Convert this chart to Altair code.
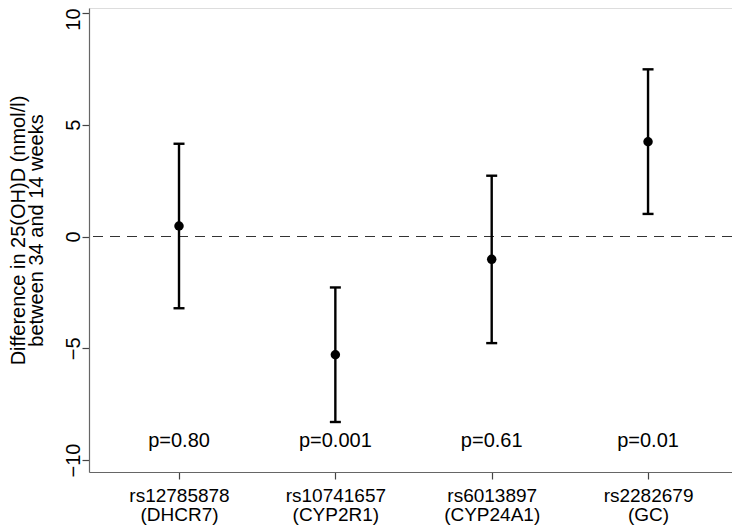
import altair as alt
import pandas as pd

# Data
snps = ["rs12785878", "rs10741657", "rs6013897", "rs2282679"]
genes = ["(DHCR7)", "(CYP2R1)", "(CYP24A1)", "(GC)"]
est = [0.47, -5.29, -1.02, 4.24]
lo = [-3.21, -8.30, -4.77, 1.01]
hi = [4.15, -2.28, 2.72, 7.48]
pvals = ["p=0.80", "p=0.001", "p=0.61", "p=0.01"]
y_ticks = [-10, -5, 0, 5, 10]

df = pd.DataFrame({
    "idx": list(range(len(snps))),
    "snp": snps,
    "gene": genes,
    "est": est,
    "lo": lo,
    "hi": hi,
    "p": pvals,
})

label_expr = "[" + ",".join(f"['{s}','{g}']" for s, g in zip(snps, genes)) + "][datum.value]"

FONT = "Liberation Sans"
xscale = alt.Scale(domain=[-0.5757, 3.537], nice=False, zero=False)
yscale = alt.Scale(domain=[-10.537, 10.224], nice=False, zero=False)

xaxis = alt.Axis(
    values=list(range(len(snps))), labelExpr=label_expr, title=None, grid=False,
    tickSize=7, tickColor="#444", tickWidth=1.2, domainColor="#666", domainWidth=1.2,
    labelFontSize=19, labelFont=FONT, labelColor="black",
    labelBaseline="alphabetic", labelAlign="center", labelPadding=22,
    labelLineHeight=19.5, labelFlush=False, labelOverlap=False,
)
yaxis = alt.Axis(
    values=y_ticks, grid=False,
    title=["Difference in 25(OH)D (nmol/l)", "between 34 and 14 weeks"],
    tickSize=7, tickColor="#444", tickWidth=1.2, domainColor="#666", domainWidth=1.2,
    labelAngle=270, labelAlign="center", labelBaseline="alphabetic", labelPadding=3,
    labelFontSize=20, labelFont=FONT, labelColor="black", labelFlush=False,
    labelOverlap=False,
    labelOffset={"condition": {"test": "datum.value == 10", "value": 6}, "value": 0},
    titleFont=FONT, titleFontSize=20, titleFontWeight="normal", titleColor="black",
    titleAngle=270, titleX=-65, titleY=222, titleAlign="center",
    titleBaseline="alphabetic", titleLineHeight=18,
)

base = alt.Chart(df).encode(x=alt.X("idx:Q", scale=xscale, axis=xaxis))

zero_line = alt.Chart(df).mark_rule(strokeDash=[10, 7], color="#333", strokeWidth=1.2).encode(
    y=alt.Y(datum=0, scale=yscale, axis=yaxis)
)

bars = base.mark_rule(color="black", strokeWidth=2.4).encode(
    y=alt.Y("lo:Q", scale=yscale, axis=yaxis), y2="hi:Q"
)
cap_lo = base.mark_tick(orient="horizontal", size=11, thickness=2.4, color="black", opacity=1).encode(
    y=alt.Y("lo:Q", scale=yscale, axis=yaxis)
)
cap_hi = base.mark_tick(orient="horizontal", size=11, thickness=2.4, color="black", opacity=1).encode(
    y=alt.Y("hi:Q", scale=yscale, axis=yaxis)
)
points = base.mark_circle(size=90, color="black", opacity=1).encode(
    y=alt.Y("est:Q", scale=yscale, axis=yaxis)
)
ptext = base.mark_text(fontSize=20, font=FONT, color="black", baseline="alphabetic", align="center").encode(
    y=alt.Y(datum=-9.42, scale=yscale, axis=yaxis), text="p:N"
)

chart = alt.layer(zero_line, bars, cap_lo, cap_hi, points, ptext).properties(
    width=643, height=464,
    autosize=alt.AutoSizeParams(type="none"),
    padding={"left": 81, "top": 0, "right": 0, "bottom": 53},
).configure_view(stroke=None).configure(background="white")

chart.save("out.html", embed_options={"renderer": "svg", "actions": False})
